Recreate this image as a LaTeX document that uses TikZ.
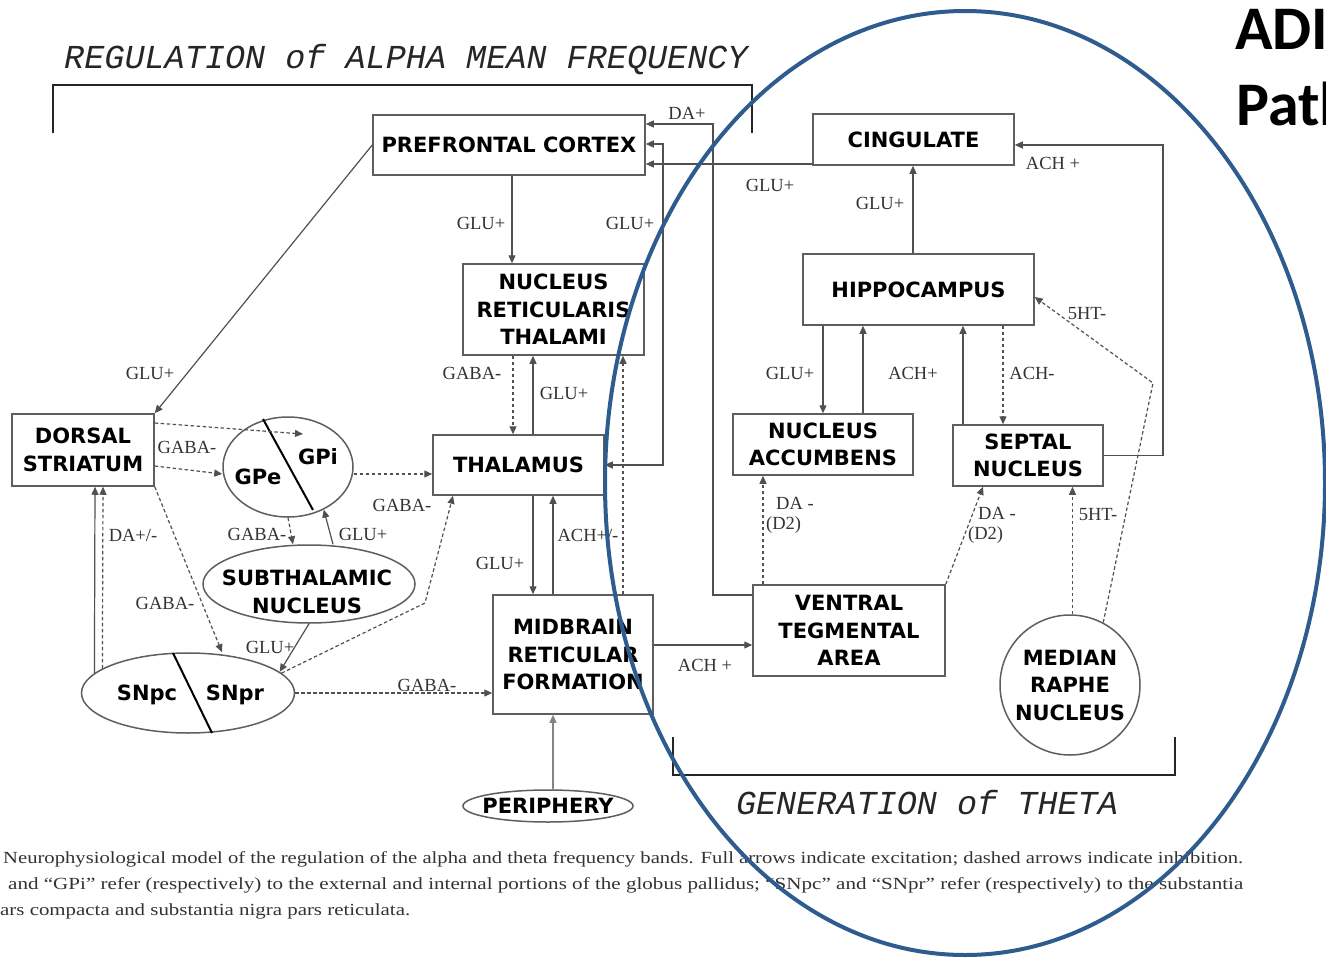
\documentclass[tikz,border=0pt]{standalone}
\usepackage{fontspec}
\usepackage{graphicx}
\setmainfont{Liberation Serif}
\newfontfamily\boxfont{DejaVu Sans}
\newfontfamily\ttlfont{Liberation Mono}
\newfontfamily\hdfont{Carlito}
\usetikzlibrary{arrows.meta,shapes.geometric}
\definecolor{ln}{HTML}{505050}
\definecolor{bd}{HTML}{5E5E5E}
\definecolor{tx}{HTML}{333333}
\definecolor{blueov}{RGB}{47,92,142}
\begin{document}
\begin{tikzpicture}[x=1pt,y=-1pt,
  box/.style={draw=bd, line width=1.5pt, rectangle, inner sep=0pt, align=center,
    font=\boxfont\bfseries\fontsize{21}{27.5}\selectfont, text=black},
  ell/.style={draw=bd, line width=1.5pt, ellipse, inner sep=0pt},
  btxt/.style={inner sep=0pt, align=center, font=\boxfont\bfseries\fontsize{21}{27.5}\selectfont, text=black},
  lab/.style={font=\fontsize{18.5}{20}\selectfont, text=tx, inner sep=0pt, align=left},
  exc/.style={draw=ln, line width=1.2pt, -{Triangle[length=8pt,width=7pt]}},
  inh/.style={exc, dash pattern=on 3.5pt off 2.5pt},
  brk/.style={draw=black!85, line width=2.6pt},
  ttl/.style={font=\ttlfont\itshape\fontsize{33.5}{34}\selectfont, text=black!85, inner sep=0pt},
  captxt/.style={font=\fontsize{17}{20}\selectfont, text=tx, inner sep=0pt, anchor=west},
]
\useasboundingbox (0,0) rectangle (1326,958);
\clip (0,0) rectangle (1326,958);
\fill[white] (0,0) rectangle (1326,958);

% ---------- titles and brackets
\node[ttl] (ttlA) at (406,60) {REGULATION of ALPHA MEAN FREQUENCY};
\draw[brk] (53,133) -- (53,85) -- (752,85) -- (752,133);
\node[ttl] (ttlT) at (927,803) {GENERATION of THETA};
\draw[brk] (673,737) -- (673,775) -- (1175,775) -- (1175,737);

% ---------- boxes
\node[box, minimum width=272, minimum height=60] (pfc) at (509,145) {PREFRONTAL CORTEX};
\node[box, minimum width=181, minimum height=91] (nrt) at (553.5,309.5) {NUCLEUS\\RETICULARIS\\THALAMI};
\node[box, minimum width=171, minimum height=60] (thal) at (518.5,465) {THALAMUS};
\node[box, minimum width=160, minimum height=119] (mrf) at (573,654.5) {MIDBRAIN\\RETICULAR\\FORMATION};
\node[box, minimum width=142, minimum height=72] (ds) at (83,450) {DORSAL\\STRIATUM};
\node[box, minimum width=201, minimum height=51] (cing) at (913.5,139.5) {CINGULATE};
\node[box, minimum width=231, minimum height=71] (hip) at (918.5,289.5) {HIPPOCAMPUS};
\node[box, minimum width=180, minimum height=61] (nacc) at (823,444.5) {NUCLEUS\\ACCUMBENS};
\node[box, minimum width=150, minimum height=61] (sept) at (1028,455.5) {SEPTAL\\NUCLEUS};
\node[box, minimum width=192, minimum height=91] (vta) at (849,630.5) {VENTRAL\\TEGMENTAL\\AREA};
\node[box, circle, minimum size=140] (mrn) at (1070,685) {MEDIAN\\RAPHE\\NUCLEUS};

% ---------- ellipses
\node[ell, minimum width=130, minimum height=100] (gp) at (288,467) {};
\draw[draw=black, line width=2pt] (263,419) -- (313,510);
\node[btxt] (gpi) at (318,457) {GPi};
\node[btxt] (gpe) at (258,477) {GPe};
\node[ell, minimum width=212, minimum height=78] (stn) at (309,584) {};
\node[btxt] (stnt) at (307,592) {SUBTHALAMIC\\NUCLEUS};
\node[ell, minimum width=213, minimum height=80] (sn) at (188,693) {};
\draw[draw=black, line width=2pt] (173,653) -- (212,733);
\node[btxt] (snpc) at (147,695) {SNpc};
\node[btxt] (snpr) at (235,695) {SNpr};
\node[ell, minimum width=170, minimum height=32] (per) at (548,806) {};
\node[btxt] (pert) at (548,806) {PERIPHERY};

% ---------- connectors (left / middle)
\draw[exc] (pfc.west) -- (ds.north east);
\draw[exc] (512,0 |- pfc.south) -- (512,0 |- nrt.north);
\draw[exc, {Triangle[length=8pt,width=7pt]}-{Triangle[length=8pt,width=7pt]}]
  (pfc.east |- 0,144) -- (663,144) -- (663,465) -- (thal.east);
\draw[exc] (vta.west |- 0,595) -- (713,595) -- (713,124) -- (pfc.east |- 0,124);
\draw[exc] (cing.west |- 0,164) -- (pfc.east |- 0,164);
\draw[inh] (513,0 |- nrt.south) -- (513,0 |- thal.north);
\draw[exc] (533,0 |- thal.north) -- (533,0 |- nrt.south);
\draw[inh] (623,0 |- mrf.north) -- (623,0 |- nrt.south);
\draw[exc] (533,0 |- thal.south) -- (533,0 |- mrf.north);
\draw[exc] (553,0 |- mrf.north) -- (553,0 |- thal.south);
\draw[exc, draw=ln!70] (553,0 |- per.north) -- (553,0 |- mrf.south);
\draw[exc] (mrf.east |- 0,645) -- (vta.west |- 0,645);
\draw[inh] (sn.east) -- (mrf.west |- sn.east);
\draw[inh] (sn.12) -- (425,603) -- (453,0 |- thal.south);
\draw[inh] (gp.east |- 0,474) -- (thal.west |- 0,474);
\coordinate (gpin) at (303,434);
\draw[inh] (ds.east |- 0,423) -- (gpin);
\draw[inh] (ds.east |- 0,466) -- (gp.west |- 0,474);
\draw[inh] (ds.south east) -- (222,0 |- sn.north);
\draw[inh] (gp.south) -- (293,0 |- stn.north);
\draw[exc] (333,0 |- stn.north) -- (gp.-50);
\draw[exc] (stn.south) -- (sn.13);
\draw[exc] (sn.168) -- (95,0 |- ds.south);
\draw[inh] (sn.164) -- (103,0 |- ds.south);

% ---------- connectors (right)
\draw[exc] (913,0 |- hip.north) -- (913,0 |- cing.south);
\draw[exc] (sept.east) -- (1163,0 |- sept.east) -- (1163,145) -- (cing.east |- 0,145);
\draw[exc] (823,0 |- hip.south) -- (823,0 |- nacc.north);
\draw[exc] (863,0 |- nacc.north) -- (863,0 |- hip.south);
\draw[exc] (963,0 |- sept.north) -- (963,0 |- hip.south);
\draw[inh] (1003,0 |- hip.south) -- (1003,0 |- sept.north);
\draw[inh] (763,0 |- vta.north) -- (763,0 |- nacc.south);
\draw[inh] (vta.north east) -- (983,0 |- sept.south);
\draw[inh] (mrn.88) -- (mrn.88 |- sept.south);
\draw[inh] (mrn.62) -- (1153,383) -- (hip.east |- 0,297);

% ---------- labels
\node[lab] (l1) at (150,373) {GLU+};
\node[lab] (l2) at (481,223) {GLU+};
\node[lab] (l3) at (630,223) {GLU+};
\node[lab] (l4) at (687,113) {DA+};
\node[lab] (l5) at (770,185) {GLU+};
\node[lab] (l6) at (472,373) {GABA-};
\node[lab] (l7) at (564,393) {GLU+};
\node[lab] (l8) at (500,563) {GLU+};
\node[lab] (l9) at (588,535) {ACH+/-};
\node[lab] (l10) at (705,665) {ACH +};
\node[lab] (l11) at (427,685) {GABA-};
\node[lab] (l12) at (187,447) {GABA-};
\node[lab] (l13) at (133,535) {DA+/-};
\node[lab] (l14) at (165,603) {GABA-};
\node[lab] (l15) at (257,534) {GABA-};
\node[lab] (l16) at (363,534) {GLU+};
\node[lab] (l17) at (270,647) {GLU+};
\node[lab] (l18) at (402,505) {GABA-};
\node[lab] (l19) at (880,203) {GLU+};
\node[lab] (l20) at (1053,163) {ACH +};
\node[lab] (l21) at (1087,314) {5HT-};
\node[lab] (l22) at (790,373) {GLU+};
\node[lab] (l23) at (913,373) {ACH+};
\node[lab] (l24) at (1032,373) {ACH-};
\node[lab, anchor=west] (l25) at (766,515) {\hspace{10pt}DA -\\(D2)};
\node[lab, anchor=west] (l26) at (968,525) {\hspace{10pt}DA -\\(D2)};
\node[lab] (l27) at (1098,515) {5HT-};

% ---------- caption
\node[captxt] (c1) at (3,859) {\resizebox{1240pt}{\height}{Neurophysiological model of the regulation of the alpha and theta frequency bands. Full arrows indicate excitation; dashed arrows indicate inhibition.}};
\node[captxt] (c2) at (8,885) {\resizebox{1235pt}{\height}{and “GPi” refer (respectively) to the external and internal portions of the globus pallidus; “SNpc” and “SNpr” refer (respectively) to the substantia}};
\node[captxt] (c3) at (0,911) {\resizebox{410pt}{\height}{ars compacta and substantia nigra pars reticulata.}};

% ---------- heading and overlay
\node[anchor=base west, inner sep=0pt, font=\hdfont\bfseries\fontsize{62}{62}\selectfont] (adi) at (1235,50) {ADI};
\node[anchor=base west, inner sep=0pt, font=\hdfont\bfseries\fontsize{62}{62}\selectfont] (path) at (1236,125) {Path};
\draw[blueov, line width=4pt] (965,483) ellipse [x radius=360, y radius=472];
\end{tikzpicture}
\end{document}
